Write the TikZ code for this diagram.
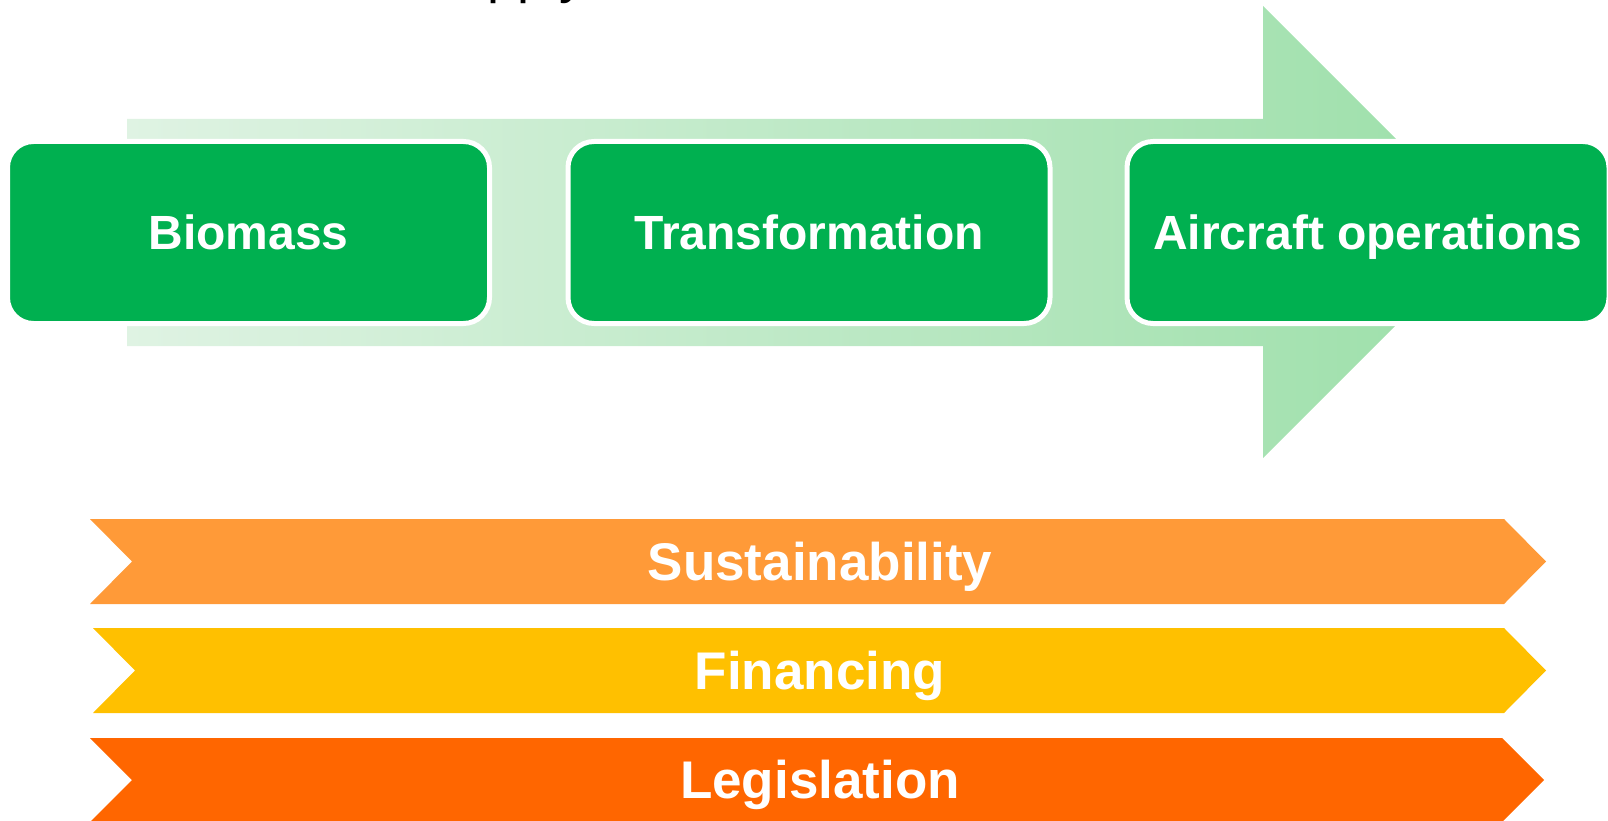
\documentclass[tikz,border=0pt]{standalone}
\usepackage{fontspec}
\setmainfont{Liberation Sans}
\usetikzlibrary{positioning}

\definecolor{stagegreen}{HTML}{00B050}
\definecolor{flowlight}{HTML}{DFF3E3}
\definecolor{flowdark}{HTML}{9CDFA9}
\definecolor{sustorange}{HTML}{FF9A38}
\definecolor{finyellow}{HTML}{FFC000}
\definecolor{legorange}{HTML}{FF6600}

\begin{document}
\begin{tikzpicture}[x=1pt, y=-1pt,
    stage/.style={draw=white, line width=5pt, fill=stagegreen, rounded corners=26pt,
        minimum width=482pt, minimum height=182pt, inner sep=0pt,
        text=white, font=\fontsize{48}{56}\selectfont\bfseries,
        text height=34.4pt, text depth=0pt},
    bandlabel/.style={inner sep=0pt, text=white, font=\fontsize{53}{60}\selectfont\bfseries,
        text height=37.9pt, text depth=0pt}]
    \useasboundingbox (0,0) rectangle (1608,821);

    % title, cut off by the top edge
    \node[anchor=base west, inner sep=0pt, font=\fontsize{54}{62}\selectfont] (title) at (421,-7) {Supply chain};

    % big flow arrow behind the stages
    \shade[left color=flowlight, right color=flowdark]
        (127,119) -- (1263,119) -- (1263,6) -- (1489,232) -- (1263,458) -- (1263,346) -- (127,346) -- cycle;

    % stages of the chain
    \node[stage] (biomass) at (248.5,232.5) {Biomass};
    \node[stage] (transform) at (809,232.5) {Transformation};
    \node[stage] (aircraft) at (1368,232.5) {Aircraft operations};

    % cross-cutting bands
    \fill[sustorange] (90,519) -- (1504,519) -- (1546,561.5) -- (1504,604) -- (90,604) -- (132,561.5) -- cycle;
    \fill[finyellow] (93,628) -- (1504,628) -- (1546,670.5) -- (1504,713) -- (93,713) -- (135,670.5) -- cycle;
    \fill[legorange] (90,738) -- (1502,738) -- (1544,780) -- (1502,822) -- (90,822) -- (132,780) -- cycle;

    \node[bandlabel] (sustain) at (820,561.5) {Sustainability};
    \node[bandlabel] (finance) at (820,670.5) {Financing};
    \node[bandlabel] (legis) at (820,780) {Legislation};
\end{tikzpicture}
\end{document}
